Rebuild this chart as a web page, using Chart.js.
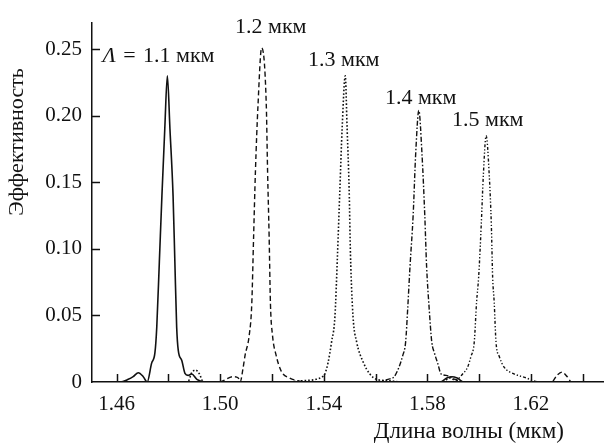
<!DOCTYPE html>
<html>
<head>
<meta charset="utf-8">
<script src="https://cdn.jsdelivr.net/npm/chart.js@4.4.1/dist/chart.umd.min.js"></script>
<style>
  html, body { margin: 0; padding: 0; background: #fff; }
  #wrap { width: 604px; height: 445px; }
</style>
</head>
<body>
<div id="wrap"><canvas id="c" width="604" height="445"></canvas></div>
<script>
// ---- Data (wavelength in µm, efficiency) ----
const series = ["Λ\u2004=\u20041.1 мкм", "1.2 мкм", "1.3 мкм", "1.4 мкм", "1.5 мкм"];

const lam11 = [1.4505, 1.4613, 1.4645, 1.4664, 1.4684, 1.4703, 1.4718, 1.4735, 1.4748, 1.4755, 1.4765, 1.4775, 1.4786, 1.4796, 1.4806, 1.4818, 1.4825, 1.4832, 1.4838, 1.4852, 1.4864, 1.4876, 1.4890, 1.4910, 1.4948, 1.5850, 1.5875, 1.5895, 1.5915, 1.5940, 1.6482];
const eff11 = [0, 0, 0.002, 0.004, 0.007, 0.004, 0, 0.014, 0.022, 0.041, 0.090, 0.140, 0.190, 0.230, 0.190, 0.140, 0.090, 0.041, 0.024, 0.016, 0.0065, 0.005, 0.006, 0.002, 0, 0, 0.003, 0.004, 0.003, 0, 0];

const lam12 = [1.4505, 1.5000, 1.5012, 1.5050, 1.5070, 1.5077, 1.5088, 1.5096, 1.5112, 1.5122, 1.5129, 1.5136, 1.5146, 1.5160, 1.5178, 1.5183, 1.5189, 1.5194, 1.5202, 1.5216, 1.5236, 1.5268, 1.5298, 1.5350, 1.6280, 1.6300, 1.6320, 1.6340, 1.6357, 1.6482];
const eff12 = [0, 0, 0.001, 0.004, 0.003, 0, 0.010, 0.020, 0.035, 0.059, 0.109, 0.158, 0.208, 0.251, 0.208, 0.158, 0.109, 0.059, 0.035, 0.020, 0.008, 0.003, 0.001, 0, 0, 0.005, 0.0074, 0.004, 0, 0];

const lam13 = [1.4505, 1.4875, 1.4890, 1.4905, 1.4920, 1.4935, 1.5250, 1.5320, 1.5370, 1.5395, 1.5404, 1.5417, 1.5430, 1.5443, 1.5453, 1.5462, 1.5471, 1.5483, 1.5490, 1.5498, 1.5503, 1.5513, 1.5527, 1.5552, 1.5578, 1.5604, 1.5650, 1.5700, 1.5860, 1.5885, 1.5920, 1.6482];
const eff13 = [0, 0, 0.007, 0.009, 0.006, 0, 0, 0.001, 0.002, 0.004, 0.006, 0.015, 0.030, 0.049, 0.096, 0.144, 0.191, 0.230, 0.191, 0.144, 0.096, 0.049, 0.030, 0.015, 0.006, 0.002, 0.001, 0, 0, 0.003, 0, 0];

const lam14 = [1.4505, 1.5600, 1.5629, 1.5648, 1.5672, 1.5690, 1.5705, 1.5716, 1.5724, 1.5733, 1.5745, 1.5755, 1.5767, 1.5779, 1.5790, 1.5797, 1.5807, 1.5817, 1.5827, 1.5840, 1.5853, 1.5872, 1.5907, 1.5938, 1.6482];
const eff14 = [0, 0, 0.001, 0.002, 0.004, 0.011, 0.020, 0.030, 0.055, 0.087, 0.125, 0.172, 0.204, 0.172, 0.125, 0.087, 0.055, 0.030, 0.022, 0.014, 0.006, 0.005, 0.002, 0, 0];

const lam15 = [1.4505, 1.5895, 1.5917, 1.5936, 1.5955, 1.5968, 1.5981, 1.5990, 1.5998, 1.6008, 1.6016, 1.6027, 1.6039, 1.6047, 1.6052, 1.6058, 1.6065, 1.6078, 1.6097, 1.6136, 1.6183, 1.6208, 1.6235, 1.6482];
const eff15 = [0, 0, 0.002, 0.006, 0.011, 0.019, 0.030, 0.060, 0.079, 0.118, 0.155, 0.185, 0.155, 0.118, 0.079, 0.060, 0.030, 0.019, 0.011, 0.006, 0.003, 0.001, 0, 0];

const xTickValues = [1.46, 1.48, 1.50, 1.52, 1.54, 1.56, 1.58, 1.60, 1.62, 1.64];
const xTickLabels = ["1.46", "", "1.50", "", "1.54", "", "1.58", "", "1.62", ""];
const yTickValues = [0, 0.05, 0.10, 0.15, 0.20, 0.25];
const yTickLabels = ["0", "0.05", "0.10", "0.15", "0.20", "0.25"];

// caption anchors (wavelength, efficiency) for the peak labels
const labelLam = [1.4546, 1.5057, 1.5339, 1.5636, 1.5895];
const labelEff = [0.2401, 0.2619, 0.2376, 0.2092, 0.1924];

const xTitle = "Длина волны (мкм)";
const yTitle = "Эффективность";

// ---- Styling ----
const FONT = '"Liberation Serif", "Times New Roman", serif';
const INK = '#111';
const dashes = [[], [5, 3], [1.6, 2], [5, 2, 1.5, 2], [3, 2, 1.3, 2, 1.3, 2]];
const widths = [1.6, 1.4, 1.6, 1.4, 1.4];
const xs = [lam11, lam12, lam13, lam14, lam15];
const ys = [eff11, eff12, eff13, eff14, eff15];

const datasets = series.map((name, i) => ({
  label: name,
  data: xs[i].map((x, j) => ({ x: x, y: ys[i][j] })),
  borderColor: INK,
  borderWidth: widths[i],
  borderDash: dashes[i],
  pointRadius: 0,
  showLine: true,
  fill: false,
  tension: 0,
  cubicInterpolationMode: 'monotone'
}));

const decor = {
  id: 'decor',
  afterDraw(chart) {
    const ctx = chart.ctx;
    const xS = chart.scales.x, yS = chart.scales.y;
    const a = chart.chartArea;
    ctx.save();
    ctx.strokeStyle = INK;
    ctx.lineWidth = 1.5;
    ctx.setLineDash([]);
    // inward tick marks
    xTickValues.forEach(v => {
      const px = Math.round(xS.getPixelForValue(v)) + 0.5;
      ctx.beginPath(); ctx.moveTo(px, a.bottom); ctx.lineTo(px, a.bottom - 8); ctx.stroke();
    });
    yTickValues.forEach(v => {
      if (v === 0) return;
      const py = Math.round(yS.getPixelForValue(v)) + 0.5;
      ctx.beginPath(); ctx.moveTo(a.left, py); ctx.lineTo(a.left + 8, py); ctx.stroke();
    });
    // peak captions
    ctx.fillStyle = INK;
    ctx.textBaseline = 'alphabetic';
    ctx.textAlign = 'left';
    series.forEach((t, i) => {
      const px = xS.getPixelForValue(labelLam[i]);
      const py = yS.getPixelForValue(labelEff[i]);
      if (t.startsWith('Λ')) {
        ctx.font = 'italic 22px ' + FONT;
        ctx.fillText('Λ', px, py);
        const w = ctx.measureText('Λ').width;
        ctx.font = '22px ' + FONT;
        ctx.fillText(t.slice(1), px + w, py);
      } else {
        ctx.font = '22px ' + FONT;
        ctx.fillText(t, px, py);
      }
    });
    // axis titles
    ctx.font = '23px ' + FONT;
    ctx.textAlign = 'right';
    ctx.fillText(xTitle, a.right - 40, 438);
    ctx.save();
    ctx.translate(23, 142);
    ctx.rotate(-Math.PI / 2);
    ctx.textAlign = 'center';
    ctx.font = '22px ' + FONT;
    ctx.fillText(yTitle, 0, 0);
    ctx.restore();
    ctx.restore();
  }
};

new Chart(document.getElementById('c'), {
  type: 'scatter',
  data: { datasets: datasets },
  options: {
    responsive: false,
    animation: false,
    devicePixelRatio: 1,
    layout: { padding: { top: 18, right: 0, bottom: 0, left: 0 } },
    plugins: { legend: { display: false }, tooltip: { enabled: false } },
    scales: {
      x: {
        type: 'linear',
        min: 1.4505, max: 1.6482,
        afterFit: s => { s.height = 63; },
        afterBuildTicks: s => { s.ticks = xTickValues.map(v => ({ value: v })); },
        grid: { display: false, drawTicks: false },
        border: { display: true, color: INK, width: 1.5 },
        ticks: {
          autoSkip: false, maxRotation: 0, padding: 10, color: INK,
          font: { family: FONT, size: 21 },
          callback: (v, i) => xTickLabels[i]
        }
      },
      y: {
        type: 'linear',
        min: 0, max: 0.27,
        afterFit: s => { s.width = 92; },
        afterBuildTicks: s => { s.ticks = yTickValues.map(v => ({ value: v })); },
        grid: { display: false, drawTicks: false },
        border: { display: true, color: INK, width: 1.5 },
        ticks: {
          autoSkip: false, padding: 10, color: INK,
          font: { family: FONT, size: 21 },
          callback: (v, i) => yTickLabels[i]
        }
      }
    }
  },
  plugins: [decor]
});
</script>
</body>
</html>
